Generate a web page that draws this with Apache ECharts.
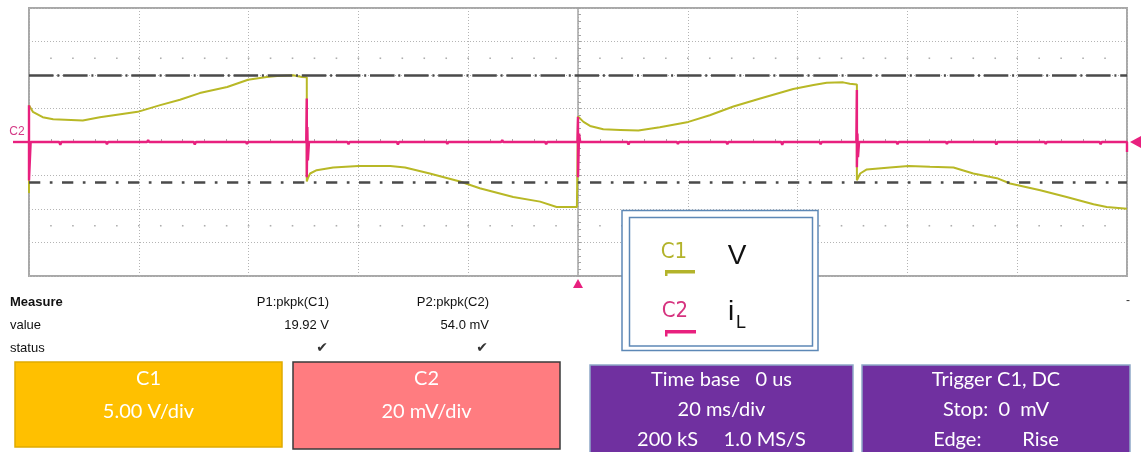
<!DOCTYPE html>
<html>
<head>
<meta charset="utf-8">
<script src="https://cdn.jsdelivr.net/npm/echarts@6/dist/echarts.min.js"></script>
<style>
  html, body { margin: 0; padding: 0; background: #ffffff; }
  #scope { width: 1142px; height: 452px; }
</style>
</head>
<body>
<div id="scope"></div>
<script>
// Time axis: 10 divisions of 20 ms, trigger at the centre
const timeMin = -100, timeMax = 100, timeStep = 20;
// C1: 5.00 V/div, C2: 20 mV/div, 8 vertical divisions
const c1Range = [-20, 20], c1Step = 5;
const c2Range = [-80, 80];

// C1 (voltage V) trace, ms / V
const c1Time = [
  -100, -100, -99.3, -97.5, -95.6, -90.2, -87.1, -80.2, -76.1, -72.5, -68.9, -63.9, -60.1, -56.7, -54.8, -51.9, -50.3, -49.4,
  -49.4, -49.2, -48.8, -47.6, -44.6, -40.0, -34.2, -31.5, -27.0, -21.5, -17.9, -11.8, -6.9, -3.9, -0.2, 0,
  0, 1.0, 2.2, 4.6, 7.7, 11.0, 14.9, 20.1, 24.0, 28.3, 33.2, 39.2, 42.9, 45.3, 48.3, 49.5, 50.8,
  50.8, 51.4, 52.6, 56.8, 60.2, 64.1, 68.4, 72.0, 76.3, 78.7, 84.2, 89.0, 93.9, 96.3, 100
];
const c1Volts = [
  -7.6, 5.5, 4.5, 3.7, 3.4, 3.2, 3.7, 4.5, 5.5, 6.3, 7.3, 8.2, 9.3, 9.7, 9.85, 9.96, 9.7, 9.65,
  -5.9, -5.4, -4.7, -4.2, -3.8, -3.6, -3.6, -3.8, -4.7, -5.9, -6.9, -8.2, -8.9, -9.7, -9.7, -9.7,
  3.8, 3.0, 2.4, 1.9, 1.8, 1.7, 2.2, 3.0, 4.0, 5.3, 6.5, 7.9, 8.5, 8.85, 8.9, 8.7, 8.6,
  -5.7, -4.7, -4.1, -3.8, -3.6, -3.7, -3.8, -4.7, -5.4, -6.2, -7.2, -8.2, -9.3, -9.7, -9.96
];

// C2 (inductor current iL sense) trace, ms / mV
const c2Time = [
  -100, -100, -100, -99.7, -94.5, -94.3, -94.1, -86, -85.8, -85.6, -78.5, -78.3, -78.1, -70, -69.8, -69.6,
  -60.5, -60.3, -60.1, -49.5, -49.4, -49.4, -49.3, -49.2, -49.0, -42, -41.8, -41.6, -33, -32.8, -32.6,
  -24, -23.8, -23.6, -14, -13.8, -13.6, -6, -5.8, -5.6, -0.1, 0, 0, 0.2, 0.4,
  9, 9.2, 9.4, 18, 18.2, 18.4, 27, 27.2, 27.4, 37, 37.2, 37.4, 44, 44.2, 44.4,
  50.7, 50.8, 50.8, 50.9, 51.0, 51.2, 58, 58.2, 58.4, 67, 67.2, 67.4, 76, 76.2, 76.4,
  85, 85.2, 85.4, 95, 95.2, 95.4, 100, 100
];
const c2mV = [
  0, 22, -23, 0, 0, -1.6, 0, 0, -1.4, 0, 0, 1.2, 0, 0, -1.5, 0,
  0, -1.2, 0, 0, 26, -21, 9, -11, 0, 0, -1.3, 0, 0, -1.5, 0,
  0, -1.2, 0, 0, 1.2, 0, 0, -1.4, 0, 0, 15, -21, 5, 0,
  0, -1.5, 0, 0, -1.2, 0, 0, -1.4, 0, 0, -1.6, 0, 0, -1.3, 0,
  0, 31, -15, 5, -9, 0, 0, -1.4, 0, 0, -1.2, 0, 0, -1.5, 0,
  0, -1.2, 0, 0, -1.4, 0, 0, -6
];

// Measurement cursors on C1 (V)
const cursorHigh = 10;
const cursorLow = -6;

// Readouts
const measureHeaders = ['P1:pkpk(C1)', 'P2:pkpk(C2)'];
const measureValues = ['19.92 V', '54.0 mV'];
const channelBoxes = [
  { title: 'C1', scale: '5.00 V/div' },
  { title: 'C2', scale: '20 mV/div' }
];
const timebaseLines = ['Time base   0 us', '20 ms/div', '200 kS     1.0 MS/S'];
const triggerLines = ['Trigger C1, DC', 'Stop:  0  mV', 'Edge:        Rise'];

const YELLOW = '#b8b826';
const PINK = '#e8207e';
const GRID = '#b4b4b4';
const FRAME = '#a8a8a8';

const zip = (a, b) => a.map((v, i) => [v, b[i]]);

// graticule dots on the two quarter rows, at each minor time step
const minorStep = timeStep / 5;
const dotRows = [12.5, -12.5];
const graticuleDots = [];
for (const row of dotRows) {
  for (let t = timeMin + minorStep; t < timeMax; t += minorStep) graticuleDots.push([t, row]);
}

const chart = echarts.init(document.getElementById('scope'), null, { renderer: 'canvas' });

const option = {
  animation: false,
  backgroundColor: '#ffffff',
  grid: {
    left: 29, top: 8, width: 1098, height: 268,
    show: true, borderColor: FRAME, borderWidth: 2, backgroundColor: 'transparent'
  },
  xAxis: {
    type: 'value', min: timeMin, max: timeMax, interval: timeStep,
    axisLine: { show: true, onZero: true, onZeroAxisIndex: 0, lineStyle: { color: '#a4a4a4', width: 1.5 } },
    axisTick: { show: true, inside: true, length: 3, lineStyle: { color: '#a4a4a4' } },
    minorTick: { show: true, splitNumber: 5, length: 3, lineStyle: { color: '#a4a4a4' } },
    axisLabel: { show: false },
    splitLine: { show: true, lineStyle: { color: GRID, width: 1, type: [1, 2] } }
  },
  yAxis: [
    {
      type: 'value', min: c1Range[0], max: c1Range[1], interval: c1Step,
      axisLine: { show: true, onZero: true, lineStyle: { color: '#a4a4a4', width: 1.5 } },
      axisTick: { show: true, inside: true, length: 3, lineStyle: { color: '#a4a4a4' } },
      minorTick: { show: true, splitNumber: 5, length: 3, lineStyle: { color: '#a4a4a4' } },
      axisLabel: { show: false },
      splitLine: { show: true, lineStyle: { color: GRID, width: 1, type: [1, 2] } }
    },
    {
      type: 'value', min: c2Range[0], max: c2Range[1], show: false,
      splitLine: { show: false }
    }
  ],
  series: [
    {
      name: 'graticule', type: 'scatter', data: graticuleDots, symbol: 'rect', symbolSize: 1.6,
      itemStyle: { color: '#9a9a9a' }, silent: true, z: 1
    },
    {
      name: 'C1', type: 'line', yAxisIndex: 0, data: zip(c1Time, c1Volts),
      showSymbol: false, symbol: 'none', lineStyle: { color: YELLOW, width: 2 }, z: 3,
      markLine: {
        silent: true, symbol: 'none', label: { show: false },
        data: [
          { yAxis: cursorHigh, lineStyle: { color: '#4a4a4a', width: 2.5, type: [24.5, 3.8, 2, 3.8] } },
          { yAxis: cursorLow, lineStyle: { color: '#4a4a4a', width: 2.5, type: [11.3, 9.5, 2.7, 9.5] } }
        ]
      }
    },
    {
      name: 'C2', type: 'line', yAxisIndex: 1, data: zip(c2Time, c2mV),
      showSymbol: false, symbol: 'none', lineStyle: { color: PINK, width: 2.4 }, z: 4
    }
  ]
};
chart.setOption(option);

// markers placed from the axes
const zeroRight = chart.convertToPixel({ xAxisIndex: 0, yAxisIndex: 1 }, [timeMax, 0]);
const zeroLeft = chart.convertToPixel({ xAxisIndex: 0, yAxisIndex: 1 }, [timeMin, 0]);
const trigPos = chart.convertToPixel({ xAxisIndex: 0, yAxisIndex: 0 }, [0, c1Range[0]]);

const SANS = "'Liberation Sans', Arial, sans-serif";
const BOXFONT = "Lato, 'Open Sans', sans-serif";
const txt = (x, y, text, fill, font, align, vAlign, z) => ({
  type: 'text', x, y, z: z || 10,
  style: { text, fill, font, align: align || 'left', textAlign: align || 'left',
           verticalAlign: vAlign || 'middle', textVerticalAlign: vAlign || 'middle' }
});

const graphics = [];

// C2 ground marker on the left, arrow on the right, trigger arrow below
graphics.push({ type: 'line', z: 10, shape: { x1: 13, y1: zeroLeft[1], x2: zeroLeft[0], y2: zeroLeft[1] },
  style: { stroke: PINK, lineWidth: 2.4 } });
graphics.push(txt(17, 132, 'C2', '#d43a86', '12px ' + SANS, 'center'));
graphics.push({ type: 'polygon', z: 10,
  shape: { points: [[zeroRight[0] + 3, zeroRight[1]], [zeroRight[0] + 14, zeroRight[1] - 6], [zeroRight[0] + 14, zeroRight[1] + 6]] },
  style: { fill: PINK } });
graphics.push({ type: 'polygon', z: 10,
  shape: { points: [[trigPos[0], trigPos[1] + 3], [trigPos[0] - 5, trigPos[1] + 12], [trigPos[0] + 5, trigPos[1] + 12]] },
  style: { fill: PINK } });

// measurement table
graphics.push(txt(10, 302, 'Measure', '#111', 'bold 13px ' + SANS));
graphics.push(txt(10, 325, 'value', '#111', '13px ' + SANS));
graphics.push(txt(10, 348, 'status', '#111', '13px ' + SANS));
const colRight = [329, 489];
measureHeaders.forEach((h, i) => {
  graphics.push(txt(colRight[i], 302, h, '#111', '13px ' + SANS, 'right'));
  graphics.push(txt(colRight[i], 325, measureValues[i], '#111', '13px ' + SANS, 'right'));
  graphics.push(txt(colRight[i] - 7, 348, '\u2714', '#333', '14px DejaVu Sans', 'center'));
});
graphics.push(txt(1128, 301, '-', '#333', '12px ' + SANS, 'center'));

// legend box
graphics.push({ type: 'rect', z: 20, shape: { x: 622, y: 210.5, width: 196, height: 140 },
  style: { fill: '#ffffff', stroke: '#5d88b6', lineWidth: 1.5 } });
graphics.push({ type: 'rect', z: 21, shape: { x: 629.5, y: 217.5, width: 183, height: 128.5 },
  style: { fill: '#ffffff', stroke: '#5d88b6', lineWidth: 1.5 } });
const LEGFONT = "'DejaVu Sans Condensed', 'Liberation Sans', sans-serif";
graphics.push(txt(674, 252, 'C1', '#b3b32b', '22px ' + LEGFONT, 'center', 'middle', 22));
graphics.push({ type: 'rect', z: 22, shape: { x: 665, y: 270, width: 30, height: 3.5 }, style: { fill: '#b3b32b' } });
graphics.push({ type: 'rect', z: 22, shape: { x: 665, y: 270, width: 2.5, height: 6 }, style: { fill: '#b3b32b' } });
graphics.push(txt(675, 311, 'C2', '#d6337f', '22px ' + LEGFONT, 'center', 'middle', 22));
graphics.push({ type: 'rect', z: 22, shape: { x: 665, y: 330, width: 31, height: 3.5 }, style: { fill: PINK } });
graphics.push({ type: 'rect', z: 22, shape: { x: 665, y: 330, width: 2.5, height: 6.5 }, style: { fill: PINK } });
graphics.push(txt(737, 256, 'V', '#111', '28px ' + SANS, 'center', 'middle', 22));
graphics.push(txt(731, 312, 'i', '#111', '28px ' + SANS, 'center', 'middle', 22));
graphics.push(txt(741, 323, 'L', '#111', '18px ' + SANS, 'center', 'middle', 22));

// channel and timebase panels
const panels = [
  { x: 15, y: 362, w: 267, h: 85, fill: '#ffc000', stroke: '#e0aa00', lines: [channelBoxes[0].title, channelBoxes[0].scale], ys: [379, 412] },
  { x: 293, y: 362, w: 267, h: 87, fill: '#ff7c80', stroke: '#3a3a3a', lines: [channelBoxes[1].title, channelBoxes[1].scale], ys: [379, 412] },
  { x: 590, y: 365, w: 263, h: 90, fill: '#7030a0', stroke: '#8fa8c8', lines: timebaseLines, ys: [380, 410, 440] },
  { x: 862, y: 365, w: 268, h: 90, fill: '#7030a0', stroke: '#8fa8c8', lines: triggerLines, ys: [380, 410, 440] }
];
panels.forEach(p => {
  graphics.push({ type: 'rect', z: 5, shape: { x: p.x, y: p.y, width: p.w, height: p.h },
    style: { fill: p.fill, stroke: p.stroke, lineWidth: 1.5 } });
  p.lines.forEach((l, i) => graphics.push(txt(p.x + p.w / 2, p.ys[i], l, '#ffffff', '20px ' + BOXFONT, 'center', 'middle', 6)));
});

chart.setOption({ graphic: graphics });
</script>
</body>
</html>
